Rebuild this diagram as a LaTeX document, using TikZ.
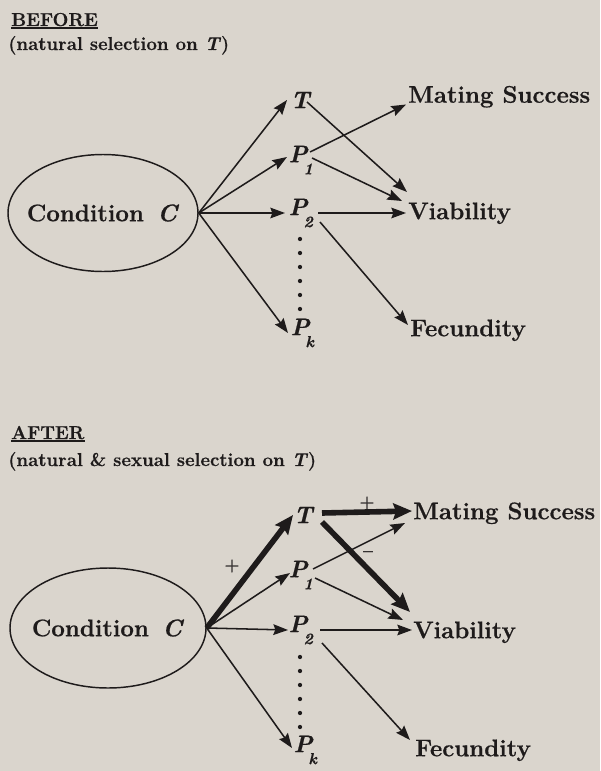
\documentclass[tikz,border=0pt]{standalone}
\usepackage{fontspec}
\setmainfont{Latin Modern Roman}
\usetikzlibrary{arrows.meta,calc,shapes.geometric}
\definecolor{paper}{RGB}{218,213,205}
\definecolor{ink}{RGB}{30,27,27}
\newcommand{\heavyfont}{\bfseries\addfontfeatures{FakeBold=0.6}}
\newcommand{\subfig}[1]{\rlap{\raisebox{-9pt}{\fontsize{12}{12}\selectfont\kern-3pt #1}}}
\begin{document}
\begin{tikzpicture}[x=0.75pt,y=-0.75pt,
  lab/.style={font=\fontsize{18}{20}\selectfont\heavyfont, inner sep=0pt, text height=12.3pt, text depth=0pt, anchor=west, text=ink},
  var/.style={font=\fontsize{18}{20}\selectfont\heavyfont\itshape, inner sep=0pt, text=ink},
  ttl/.style={font=\fontsize{14}{16}\selectfont\heavyfont, inner sep=0pt, anchor=base west, text=ink},
  sgn/.style={font=\fontsize{13}{13}\selectfont\heavyfont, inner sep=0pt, text=ink},
  cond/.style={ellipse, draw=ink, line width=1.1pt, inner sep=0pt},
  condtext/.style={font=\fontsize{18}{20}\selectfont\heavyfont, inner sep=0pt, text=ink},
  arr/.style={draw=ink, line width=1.15pt, -{Stealth[length=11pt,width=8pt,inset=1.5pt]}},
  heavy/.style={draw=ink, line width=4.2pt, -{Stealth[length=14pt,width=12pt,inset=2pt]}},
  dot/.style={fill=ink}
]
\fill[paper] (0,0) rectangle (600,771);
\useasboundingbox (0,0) rectangle (600,771);

% ---------------- BEFORE ----------------
\node[ttl] (bef) at (11,26) {BEFORE};
\draw[ink, line width=0.9pt] ($(bef.base west)+(0,2)$) -- ($(bef.base east)+(0,2)$);
\node[ttl] (befs) at (8,50) {(natural selection on \textit{T})};

\node[cond, minimum width=142.5pt, minimum height=87.75pt] (C1) at (103,213) {};
\node[condtext] (C1t) at (C1.center) {Condition\hspace{10pt}\textit{C}};
\node[var] (T1) at (300,100) {T};
\node[var] (Pa1) at (298,160) {P\subfig{1}};
\node[var] (Pb1) at (298,213) {P\subfig{2}};
\node[var] (Pk1) at (300,333) {P\subfig{k}};
\node[lab] (MS1) at (408,94.5) {Mating Success};
\node[lab] (V1) at (408,211) {Viability};
\node[lab] (F1) at (410,328) {Fecundity};

\foreach \yy in {239,253,267,281,295,309} \fill[dot] (300,\yy) circle (1.6pt);

\draw[arr] (C1.east) -- ($(T1)+(-13,0)$);
\draw[arr] (C1.east) -- ($(Pa1)+(-11,-3)$);
\draw[arr] (C1.east) -- ($(Pb1)+(-13,0)$);
\draw[arr] (C1.east) -- ($(Pk1)+(-12,0)$);
\draw[arr] ($(T1)+(7,2)$) -- ($(V1.west)+(-1,-19)$);
\draw[arr] ($(Pa1)+(12,-8)$) -- ($(MS1.west)+(-2,10)$);
\draw[arr] ($(Pa1)+(14,-2)$) -- ($(V1.west)+(-6,-10)$);
\draw[arr] ($(Pb1)+(20,0)$) -- ($(V1.west)+(-2,2)$);
\draw[arr] ($(Pb1)+(22,9)$) -- ($(F1.west)+(-2,-3)$);

% ---------------- AFTER ----------------
\node[ttl] (aft) at (11,439) {AFTER};
\draw[ink, line width=0.9pt] ($(aft.base west)+(0,2)$) -- ($(aft.base east)+(0,2)$);
\node[ttl] (afts) at (8,466) {(natural \& sexual selection on \textit{T})};

\node[cond, minimum width=147pt, minimum height=90pt] (C2) at (108,628) {};
\node[condtext] (C2t) at (C2.center) {Condition\hspace{10pt}\textit{C}};
\node[var] (T2) at (303,515) {T};
\node[var] (Pa2) at (298,575) {P\subfig{1}};
\node[var] (Pb2) at (298,630) {P\subfig{2}};
\node[var] (Pk2) at (303,750) {P\subfig{k}};
\node[lab] (MS2) at (413,511) {Mating Success};
\node[lab] (V2) at (413,630) {Viability};
\node[lab] (F2) at (415,748) {Fecundity};

\foreach \yy in {657,671,685,699,713,727} \fill[dot] (300,\yy) circle (1.6pt);

\draw[heavy] (C2.east) -- ($(T2)+(-10,0)$);
\draw[arr] (C2.east) -- ($(Pa2)+(-8,-2)$);
\draw[arr] (C2.east) -- ($(Pb2)+(-10,0)$);
\draw[arr] (C2.east) -- ($(Pk2)+(-11,-2)$);
\draw[heavy] ($(T2)+(19,-2)$) -- ($(MS2.west)+(-1,0)$);
\draw[heavy] ($(T2)+(19,7)$) -- ($(V2.west)+(-3,-18)$);
\draw[arr] ($(Pa2)+(15,-6)$) -- ($(MS2.west)+(-8,12)$);
\draw[arr] ($(Pa2)+(17,3)$) -- ($(V2.west)+(-10,-10)$);
\draw[arr] ($(Pb2)+(22,0)$) -- ($(V2.west)+(-1,0)$);
\draw[arr] ($(Pb2)+(24,13)$) -- ($(F2.west)+(-5,-8)$);

\node[sgn] (pl1) at (232,566) {+};
\node[sgn] (pl2) at (367,503) {+};
\node[sgn] (mn1) at (368,554) {--};
\end{tikzpicture}
\end{document}
